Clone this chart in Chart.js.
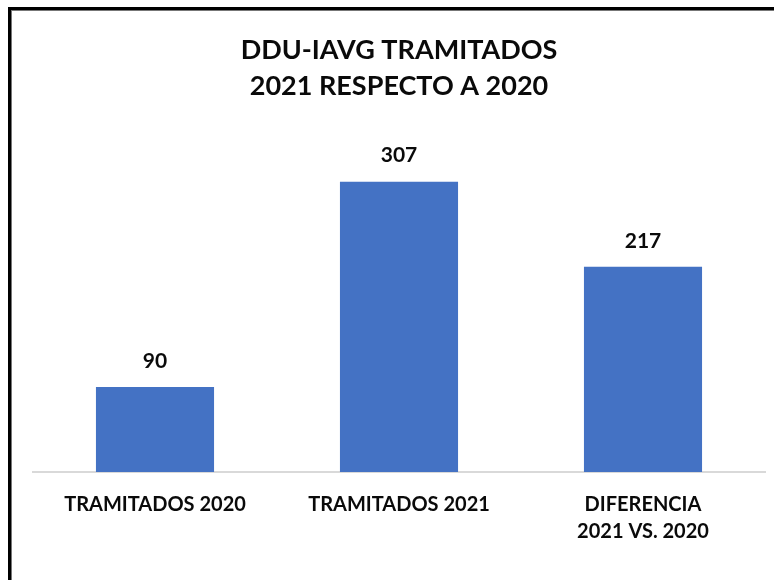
<!DOCTYPE html>
<html>
<head>
<meta charset="utf-8">
<script src="https://cdn.jsdelivr.net/npm/chart.js@4"></script>
<style>
  html, body { margin: 0; padding: 0; background: #fff; overflow: hidden; }
  #wrap { position: relative; width: 774px; height: 580px; }
  #frame {
    position: absolute; left: 8px; top: 7px; width: 900px; height: 700px;
    border-left: 3px solid #000; border-top: 3px solid #000;
    box-shadow: inset 1px 1px 0 #777; pointer-events: none;
  }
</style>
</head>
<body>
<div id="wrap">
  <canvas id="tramitesChart" width="774" height="580"></canvas>
  <div id="frame"></div>
</div>
<script>
// categorias y valores
const categorias = ['TRAMITADOS 2020', 'TRAMITADOS 2021', ['DIFERENCIA', '2021 VS. 2020']];
const tramitados = [90, 307, 217];
const tituloLineas = ['DDU-IAVG TRAMITADOS', '2021 RESPECTO A 2020'];

const fuente = "Lato, 'Open Sans', sans-serif";

// etiquetas de valor encima de cada barra
const valoresPlugin = {
    id: 'valores',
    afterDatasetsDraw(chart) {
        const ctx = chart.ctx;
        const meta = chart.getDatasetMeta(0);
        ctx.save();
        ctx.font = 'bold 21px ' + fuente;
        ctx.fillStyle = '#0a0a0a';
        ctx.textAlign = 'center';
        ctx.textBaseline = 'middle';
        meta.data.forEach((bar, i) => {
            ctx.fillText(chart.data.datasets[0].data[i], bar.x, bar.y - 26);
        });
        ctx.restore();
    }
};

const ctx = document.getElementById('tramitesChart').getContext('2d');
new Chart(ctx, {
    type: 'bar',
    data: {
        labels: categorias,
        datasets: [{
            data: tramitados,
            backgroundColor: '#4472C4',
            barPercentage: 1,
            categoryPercentage: 0.484
        }]
    },
    options: {
        responsive: false,
        animation: false,
        layout: { padding: { left: 33, right: 9, top: 0, bottom: 0 } },
        plugins: {
            legend: { display: false },
            tooltip: { enabled: false },
            title: {
                display: true,
                text: tituloLineas,
                color: '#0a0a0a',
                font: { family: fuente, size: 27, weight: 'bold', lineHeight: 1.33 },
                padding: { top: 32, bottom: 40 }
            }
        },
        scales: {
            x: {
                grid: { display: false, drawTicks: false },
                border: { display: true, color: '#d9d9d9', width: 2 },
                ticks: {
                    color: '#0a0a0a',
                    padding: 19,
                    maxRotation: 0,
                    autoSkip: false,
                    font: { family: fuente, size: 20, weight: 'bold', lineHeight: 1.35 }
                },
                afterFit(scale) { scale.height = 108; }
            },
            y: {
                display: false,
                min: 0,
                max: 347
            }
        }
    },
    plugins: [valoresPlugin]
});
</script>
</body>
</html>
